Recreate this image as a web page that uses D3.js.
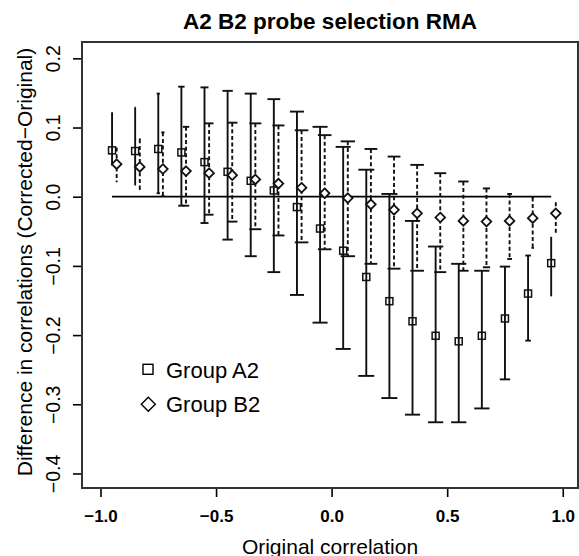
<!DOCTYPE html>
<html>
<head>
<meta charset="utf-8">
<script src="https://cdn.jsdelivr.net/npm/d3@7"></script>
<style>
  body { margin: 0; background: #fff; }
  svg text { font-family: "Liberation Sans", Arial, Helvetica, sans-serif; fill: #000; }
</style>
</head>
<body>
<div id="chart"></div>
<script>
// bin centres of the original correlation
const bins = [-0.95, -0.85, -0.75, -0.65, -0.55, -0.45, -0.35, -0.25, -0.15, -0.05,
              0.05, 0.15, 0.25, 0.35, 0.45, 0.55, 0.65, 0.75, 0.85, 0.95]

// Group A2
const a2Mid = [0.067, 0.066, 0.069, 0.064, 0.050, 0.036, 0.023, 0.009, -0.015, -0.046,
               -0.078, -0.116, -0.151, -0.180, -0.201, -0.209, -0.201, -0.176, -0.140, -0.096]
const a2Hi  = [0.122, 0.129, 0.149, 0.159, 0.158, 0.153, 0.149, 0.141, 0.123, 0.101,
               0.072, 0.039, 0.004, -0.035, -0.072, -0.097, -0.107, -0.101, -0.085, -0.058]
const a2Lo  = [0.045, 0.017, 0.005, -0.013, -0.038, -0.062, -0.086, -0.109, -0.142, -0.182,
               -0.220, -0.259, -0.291, -0.315, -0.326, -0.326, -0.306, -0.264, -0.208, -0.144]
// relative whisker cap width (0..1) as seen on the plot
const a2Cap = [0, 0.05, 0.2, 0.4, 0.5, 0.65, 0.75, 0.8, 0.88, 0.94,
               0.94, 1, 1, 0.95, 0.95, 0.95, 0.95, 0.65, 0.35, 0]

// Group B2
const b2Mid = [0.047, 0.043, 0.040, 0.037, 0.034, 0.031, 0.025, 0.019, 0.013, 0.005,
               -0.002, -0.011, -0.019, -0.024, -0.030, -0.035, -0.036, -0.035, -0.031, -0.024]
const b2Hi  = [0.071, 0.083, 0.093, 0.101, 0.106, 0.107, 0.106, 0.103, 0.096, 0.089,
               0.080, 0.069, 0.058, 0.046, 0.034, 0.022, 0.012, 0.004, -0.001, -0.008]
const b2Lo  = [0.021, 0.011, 0.001, -0.013, -0.026, -0.036, -0.047, -0.056, -0.066, -0.076,
               -0.086, -0.097, -0.104, -0.107, -0.109, -0.107, -0.102, -0.090, -0.074, -0.054]
const b2Cap = [0, 0.1, 0.2, 0.4, 0.55, 0.65, 0.75, 0.75, 0.85, 0.85,
               0.9, 0.8, 0.8, 0.85, 0.75, 0.65, 0.45, 0.3, 0.15, 0]

const xTicks = [-1.0, -0.5, 0.0, 0.5, 1.0]
const yTicks = [-0.4, -0.3, -0.2, -0.1, 0.0, 0.1, 0.2]

const width = 579
const height = 556
const box = {left: 82, right: 578, top: 42, bottom: 488}

const config = {
  b2Shift: 0.02,     // B2 drawn just right of A2
  capMax: 16,
  square: 7,
  diamond: 4.8,
  tick: 9
}

const svg = d3.select('#chart')
              .append('svg')
              .attr('width', width)
              .attr('height', height)

const x = d3.scaleLinear().domain([-1.08, 1.066]).range([box.left, box.right])
const y = d3.scaleLinear().domain([-0.421, 0.2236]).range([box.bottom, box.top])
const capW = d3.scaleLinear().domain([0, 1]).range([0, config.capMax])

const fmt = d => d3.format('.1f')(d).replace('-', '\u2212')

// x axis
const xAxis = svg.append('g')
                 .attr('transform', 'translate(0,' + box.bottom + ')')
                 .call(d3.axisBottom(x).tickValues(xTicks).tickSize(config.tick).tickSizeOuter(0).tickFormat(fmt))
xAxis.select('.domain').remove()
xAxis.selectAll('line').attr('stroke', '#000').attr('stroke-width', 1.6)
xAxis.selectAll('text')
     .attr('y', 33.5)
     .attr('dy', 0)
     .attr('font-size', 17)
     .attr('font-weight', 'bold')
     .attr('fill', '#000')

// y axis, labels parallel to the axis like R does
const yAxis = svg.append('g')
                 .attr('transform', 'translate(' + box.left + ',0)')
                 .call(d3.axisLeft(y).tickValues(yTicks).tickSize(config.tick).tickSizeOuter(0).tickFormat(fmt))
yAxis.select('.domain').remove()
yAxis.selectAll('line').attr('stroke', '#000').attr('stroke-width', 1.6)
yAxis.selectAll('text')
     .attr('transform', 'rotate(-90)')
     .attr('x', 0)
     .attr('y', -22)
     .attr('dy', 0)
     .attr('text-anchor', 'middle')
     .attr('font-size', 19.5)
     .attr('fill', '#000')

// plot frame
svg.append('rect')
   .attr('x', box.left)
   .attr('y', box.top)
   .attr('width', box.right - box.left)
   .attr('height', box.bottom - box.top)
   .attr('fill', 'none')
   .attr('stroke', '#333')
   .attr('stroke-width', 2)

// reference line at zero
svg.append('line')
   .attr('x1', x(d3.min(bins)))
   .attr('x2', x(d3.max(bins)))
   .attr('y1', y(0))
   .attr('y2', y(0))
   .attr('stroke', '#000')
   .attr('stroke-width', 1.7)

const a2 = bins.map((b, i) => ({x: b, mid: a2Mid[i], hi: a2Hi[i], lo: a2Lo[i], cap: a2Cap[i]}))
const b2 = bins.map((b, i) => ({x: b + config.b2Shift, mid: b2Mid[i], hi: b2Hi[i], lo: b2Lo[i], cap: b2Cap[i]}))

function drawBars(data, cls, dash) {
  const g = svg.append('g').attr('class', cls)
               .attr('stroke', '#111')
               .attr('stroke-width', 1.9)
  g.selectAll('line.whisker')
   .data(data)
   .enter()
   .append('line')
   .attr('class', 'whisker')
   .attr('x1', d => x(d.x))
   .attr('x2', d => x(d.x))
   .attr('y1', d => y(d.hi))
   .attr('y2', d => y(d.lo))
   .attr('stroke-dasharray', dash)
  // caps
  ;['hi', 'lo'].forEach(k => {
    g.selectAll('line.cap-' + k)
     .data(data.filter(d => d.cap > 0))
     .enter()
     .append('line')
     .attr('class', 'cap-' + k)
     .attr('x1', d => x(d.x) - capW(d.cap) / 2)
     .attr('x2', d => x(d.x) + capW(d.cap) / 2)
     .attr('y1', d => y(d[k]))
     .attr('y2', d => y(d[k]))
  })
}

drawBars(a2, 'bars-a2', null)
drawBars(b2, 'bars-b2', '4,2.6')

const diamondPath = (cx, cy, r) => 'M' + cx + ',' + (cy - r) + 'L' + (cx + r) + ',' + cy +
                                   'L' + cx + ',' + (cy + r) + 'L' + (cx - r) + ',' + cy + 'Z'

svg.append('g')
   .selectAll('rect')
   .data(a2)
   .enter()
   .append('rect')
   .attr('x', d => x(d.x) - config.square / 2)
   .attr('y', d => y(d.mid) - config.square / 2)
   .attr('width', config.square)
   .attr('height', config.square)
   .attr('fill', 'none')
   .attr('stroke', '#111')
   .attr('stroke-width', 1.5)

svg.append('g')
   .selectAll('path')
   .data(b2)
   .enter()
   .append('path')
   .attr('d', d => diamondPath(x(d.x), y(d.mid), config.diamond))
   .attr('fill', '#fff')
   .attr('stroke', '#111')
   .attr('stroke-width', 1.8)

// legend
const legend = svg.append('g').attr('class', 'legend')
legend.append('rect')
      .attr('x', 143).attr('y', 364.3)
      .attr('width', 10).attr('height', 10)
      .attr('fill', 'none').attr('stroke', '#000').attr('stroke-width', 1.4)
legend.append('path')
      .attr('d', diamondPath(148.3, 404.3, 7))
      .attr('fill', 'none').attr('stroke', '#000').attr('stroke-width', 1.4)
legend.append('text').attr('x', 166).attr('y', 377.7).attr('font-size', 22).text('Group A2')
legend.append('text').attr('x', 166).attr('y', 411.7).attr('font-size', 22).text('Group B2')

// titles
svg.append('text')
   .attr('x', (box.left + box.right) / 2)
   .attr('y', 28.5)
   .attr('text-anchor', 'middle')
   .attr('font-size', 22.5)
   .attr('font-weight', 'bold')
   .text('A2 B2 probe selection RMA')

svg.append('text')
   .attr('x', (box.left + box.right) / 2)
   .attr('y', 554)
   .attr('text-anchor', 'middle')
   .attr('font-size', 21)
   .text('Original correlation')

svg.append('text')
   .attr('transform', 'translate(31.5,' + ((box.top + box.bottom) / 2 - 3) + ') rotate(-90)')
   .attr('text-anchor', 'middle')
   .attr('font-size', 21)
   .text('Difference in correlations (Corrected\u2212Original)')
</script>
</body>
</html>
